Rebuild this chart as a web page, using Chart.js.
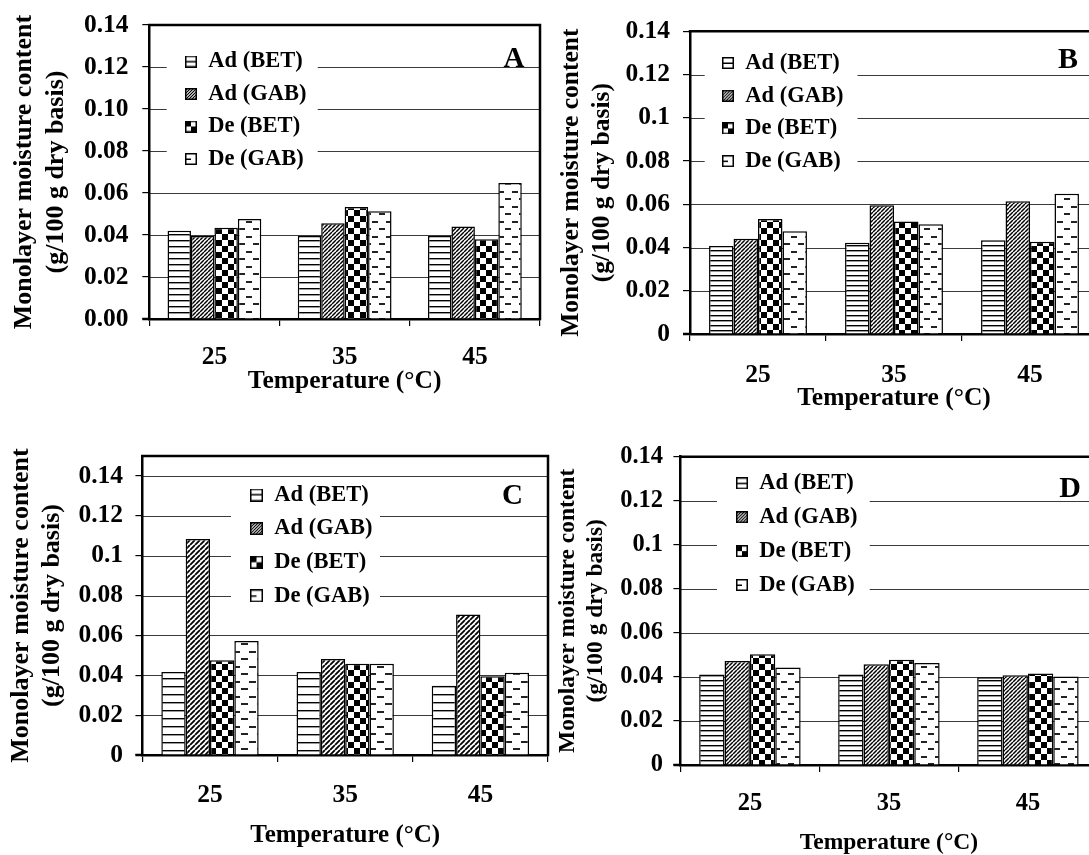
<!DOCTYPE html>
<html>
<head>
<meta charset="utf-8">
<script src="https://cdn.jsdelivr.net/npm/chart.js@4.4.1/dist/chart.umd.min.js"></script>
<style>
html,body{margin:0;padding:0;background:#fff;overflow:hidden;}
body{width:1089px;height:855px;position:relative;}
canvas{position:absolute;display:block;}
</style>
</head>
<body>
<script>
// ---------------- data ----------------
const categories = ['25', '35', '45'];
const seriesLabels = ['Ad (BET)', 'Ad (GAB)', 'De (BET)', 'De (GAB)'];
const yTickValues = [0, 0.02, 0.04, 0.06, 0.08, 0.10, 0.12, 0.14];
const yTickLabelsA = ['0.00', '0.02', '0.04', '0.06', '0.08', '0.10', '0.12', '0.14'];
const yTickLabelsBCD = ['0', '0.02', '0.04', '0.06', '0.08', '0.1', '0.12', '0.14'];
const xTitleText = 'Temperature (°C)';
const yTitleText = ['Monolayer moisture content', '(g/100 g dry basis)'];
const panelLetters = ['A', 'B', 'C', 'D'];

const adBET_A = [0.0420, 0.0395, 0.0395];
const adGAB_A = [0.0395, 0.0456, 0.0440];
const deBET_A = [0.0434, 0.0533, 0.0380];
const deGAB_A = [0.0476, 0.0513, 0.0648];

const adBET_B = [0.0407, 0.0422, 0.0433];
const adGAB_B = [0.0441, 0.0595, 0.0614];
const deBET_B = [0.0532, 0.0520, 0.0427];
const deGAB_B = [0.0475, 0.0507, 0.0649];

const adBET_C = [0.0417, 0.0417, 0.0348];
const adGAB_C = [0.1083, 0.0482, 0.0705];
const deBET_C = [0.0475, 0.0458, 0.0395];
const deGAB_C = [0.0572, 0.0458, 0.0413];

const adBET_D = [0.0411, 0.0411, 0.0398];
const adGAB_D = [0.0472, 0.0458, 0.0408];
const deBET_D = [0.0503, 0.0478, 0.0416];
const deGAB_D = [0.0443, 0.0463, 0.0402];

const yMaxA = 0.14, yMaxB = 0.14, yMaxC = 0.15, yMaxD = 0.14;

// ---------------- layout / style ----------------
const FONT = "'Liberation Serif', 'Times New Roman', serif";
const LEGEND_FONT = 22.5;

const panels = [
  { id: 'A', letter: panelLetters[0], yMax: yMaxA, tickLabels: yTickLabelsA,
    data: [adBET_A, adGAB_A, deBET_A, deGAB_A],
    canvas: {x: 0, y: 0, w: 545, h: 425}, area: {l: 149.3, t: 25, r: 540, b: 319},
    tickFont: 25.5, xTitleFont: 25.5, yTitleFont: 26, yTickPad: 13.8, xTickMid: 357.5, yTitleX: 24.5, xTitleMid: 381.6,
    legend: {x: 185, y: 61.5, sp: 32.5, icon: 12}, box: {x1: 166.7, y1: 42, x2: 317.7, y2: 176},
    label: {size: 29, right: 524.5, base: 67}, pat: {h: 6, d: 4, c: 6, dw: 14, dh: 15}, cat: 0.72 },
  { id: 'B', letter: panelLetters[1], yMax: yMaxB, tickLabels: yTickLabelsBCD,
    data: [adBET_B, adGAB_B, deBET_B, deGAB_B],
    canvas: {x: 545, y: 0, w: 560, h: 425}, area: {l: 690, t: 31.25, r: 1098, b: 334},
    tickFont: 25.5, xTitleFont: 25.5, yTitleFont: 25.5, yTickPad: 13, xTickMid: 375, yTitleX: 571, xTitleMid: 398.5,
    legend: {x: 722, y: 63, sp: 32.7, icon: 12}, box: {x1: 704.7, y1: 43, x2: 857.5, y2: 178},
    label: {size: 30, right: 1078, base: 68}, pat: {h: 5, d: 4, c: 6, dw: 14, dh: 15}, cat: 0.72 },
  { id: 'C', letter: panelLetters[2], yMax: yMaxC, tickLabels: yTickLabelsBCD,
    data: [adBET_C, adGAB_C, deBET_C, deGAB_C],
    canvas: {x: 0, y: 430, w: 552, h: 428}, area: {l: 142.4, t: 456, r: 548, b: 755},
    tickFont: 25.5, xTitleFont: 25, yTitleFont: 26, yTickPad: 12.4, xTickMid: 795.5, yTitleX: 20.8, xTitleMid: 835.3,
    legend: {x: 250, y: 495, sp: 33.6, icon: 13}, box: {x1: 231, y1: 478, x2: 380, y2: 613},
    label: {size: 29, right: 523, base: 504}, pat: {h: 8, d: 5, c: 6, dw: 16, dh: 15}, cat: 0.72 },
  { id: 'D', letter: panelLetters[3], yMax: yMaxD, tickLabels: yTickLabelsBCD,
    data: [adBET_D, adGAB_D, deBET_D, deGAB_D],
    canvas: {x: 549, y: 430, w: 560, h: 428}, area: {l: 680.4, t: 456.7, r: 1097.4, b: 765},
    tickFont: 24.5, xTitleFont: 23.5, yTitleFont: 23.5, yTickPad: 10.4, xTickMid: 803.5, yTitleX: 567.6, xTitleMid: 843.3,
    legend: {x: 736, y: 483.3, sp: 33.9, icon: 12}, box: {x1: 717, y1: 465, x2: 869.7, y2: 602},
    label: {size: 30, right: 1081, base: 497}, pat: {h: 5, d: 4, c: 6, dw: 14, dh: 15}, cat: 0.73 }
];

function tileCanvas(w, h, draw) {
  const c = document.createElement('canvas');
  c.width = w; c.height = h;
  const g = c.getContext('2d');
  g.fillStyle = '#fff'; g.fillRect(0, 0, w, h);
  draw(g, w, h);
  return c;
}

function makePatterns(ctx, pt) {
  const hl = tileCanvas(4, pt.h, (g, w) => { g.fillStyle = '#000'; g.fillRect(0, 0, w, 1.4); });
  const d = pt.d;
  const dg = tileCanvas(d, d, (g) => {
    g.strokeStyle = '#000'; g.lineWidth = d * 0.36; g.beginPath();
    for (let k = -1; k <= 1; k++) { g.moveTo(k * d, d); g.lineTo(k * d + d, 0); }
    g.stroke();
  });
  const c = pt.c;
  const ck = tileCanvas(2 * c, 2 * c, (g) => { g.fillStyle = '#000'; g.fillRect(0, 0, c, c); g.fillRect(c, c, c, c); });
  const ds = tileCanvas(pt.dw, pt.dh, (g, w, h) => {
    g.fillStyle = '#222';
    const L = Math.round(w * 0.45);
    g.fillRect(1, Math.round(h * 0.2), L, 2);
    g.fillRect(Math.round(w / 2) + 1, Math.round(h * 0.7), L, 2);
  });
  return [hl, dg, ck, ds].map(t => ctx.createPattern(t, 'repeat'));
}

function makeIcons(s) {
  const mk = (draw) => {
    const c = document.createElement('canvas');
    c.width = s; c.height = s;
    const g = c.getContext('2d');
    g.fillStyle = '#fff'; g.fillRect(0, 0, s, s);
    g.save(); g.beginPath(); g.rect(1, 1, s - 2, s - 2); g.clip(); draw(g); g.restore();
    g.strokeStyle = '#000'; g.lineWidth = 1.5; g.strokeRect(0.75, 0.75, s - 1.5, s - 1.5);
    return c;
  };
  return [
    mk(g => { g.fillStyle = '#000'; g.fillRect(0, Math.floor(s / 2) - 0.5, s, 1.5); }),
    mk(g => { g.strokeStyle = '#000'; g.lineWidth = 1.2; g.beginPath();
              for (let k = -s; k <= 2 * s; k += 3) { g.moveTo(k, s); g.lineTo(k + s, 0); } g.stroke(); }),
    mk(g => { g.fillStyle = '#000'; const h = s / 2; g.fillRect(0, 0, h, h); g.fillRect(h, h, h, h); }),
    mk(g => { g.fillStyle = '#000'; g.fillRect(1, s / 2 - 0.5, s / 2 - 1, 1.5); })
  ];
}

function makeDeco(p) {
  const ox = p.canvas.x, oy = p.canvas.y;
  return {
    id: 'deco' + p.id,
    afterLayout(chart) {
      const lg = chart.legend;
      if (!lg) return;
      const pad = p.legend.sp - LEGEND_FONT;
      lg.left = p.legend.x - ox - pad;
      lg.top = p.legend.y - oy - LEGEND_FONT / 2 - pad;
      lg.width = 400; lg.height = 400;
      lg.right = lg.left + 400; lg.bottom = lg.top + 400;
    },
    beforeDraw(chart) {
      const {ctx, chartArea: ca} = chart;
      const y = chart.scales.y;
      ctx.save();
      ctx.strokeStyle = '#3a3a3a'; ctx.lineWidth = 1;
      yTickValues.forEach(v => {
        if (v === 0) return;
        const py = Math.round(y.getPixelForValue(v)) + 0.5;
        ctx.beginPath(); ctx.moveTo(ca.left, py); ctx.lineTo(ca.right, py); ctx.stroke();
      });
      ctx.fillStyle = '#fff';
      ctx.fillRect(p.box.x1 - ox, p.box.y1 - oy, p.box.x2 - p.box.x1, p.box.y2 - p.box.y1);
      ctx.restore();
    },
    afterDraw(chart) {
      const {ctx, chartArea: ca} = chart;
      ctx.save();
      ctx.strokeStyle = '#000'; ctx.lineWidth = 2.5; ctx.lineCap = 'square';
      ctx.beginPath(); ctx.moveTo(ca.left, ca.top); ctx.lineTo(ca.right, ca.top); ctx.lineTo(ca.right, ca.bottom); ctx.stroke();
      ctx.lineCap = 'butt';
      ctx.beginPath(); ctx.moveTo(ca.left - 7, ca.bottom); ctx.lineTo(ca.left, ca.bottom); ctx.stroke();
      ctx.fillStyle = '#000';
      ctx.font = 'bold ' + p.label.size + 'px ' + FONT;
      ctx.textAlign = 'right'; ctx.textBaseline = 'alphabetic';
      ctx.fillText(p.letter, p.label.right - ox, p.label.base - oy);
      ctx.restore();
    }
  };
}

function build(p) {
  const cv = document.createElement('canvas');
  cv.width = p.canvas.w; cv.height = p.canvas.h;
  cv.style.left = p.canvas.x + 'px'; cv.style.top = p.canvas.y + 'px';
  cv.style.width = p.canvas.w + 'px'; cv.style.height = p.canvas.h + 'px';
  document.body.appendChild(cv);
  const ox = p.canvas.x, oy = p.canvas.y;
  const A = {l: p.area.l - ox, t: p.area.t - oy, r: p.area.r - ox, b: p.area.b - oy};
  const ctx = cv.getContext('2d');
  const pats = makePatterns(ctx, p.pat);
  const icons = makeIcons(p.legend.icon);
  const tickLH = 1.2, titleLH = 1.2, yTitleLH = 1.22;
  const xTickPad = p.xTickMid - p.area.b - 7 - p.tickFont * tickLH / 2;
  const xTitlePadB = Math.max(0, (oy + p.canvas.h) - p.xTitleMid - p.xTitleFont * titleLH / 2);
  const yTitlePadT = p.yTitleX - ox - p.yTitleFont * yTitleLH / 2;

  const datasets = p.data.map((vals, i) => ({
    label: seriesLabels[i],
    data: vals,
    backgroundColor: pats[i],
    borderColor: '#000',
    borderWidth: 1.5,
    categoryPercentage: p.cat,
    barPercentage: 1.0
  }));

  new Chart(cv, {
    type: 'bar',
    data: {labels: categories, datasets},
    options: {
      responsive: false,
      animation: false,
      events: [],
      devicePixelRatio: 1,
      layout: {padding: {left: 0, top: A.t, right: p.canvas.w - A.r, bottom: 0}},
      scales: {
        x: {
          type: 'category',
          offset: true,
          grid: {display: true, offset: true, drawOnChartArea: false, drawTicks: true, tickLength: 7, color: '#000', lineWidth: 1.2},
          border: {display: true, color: '#000', width: 2.5},
          ticks: {color: '#000', padding: xTickPad, maxRotation: 0, autoSkip: false,
                  font: {family: FONT, size: p.tickFont, weight: 'bold', lineHeight: tickLH}},
          title: {display: true, text: xTitleText, color: '#000',
                  font: {family: FONT, size: p.xTitleFont, weight: 'bold', lineHeight: titleLH},
                  padding: {top: 0, bottom: xTitlePadB}},
          afterFit: (s) => { s.height = p.canvas.h - A.b; s.paddingLeft = 0; s.paddingRight = 0; }
        },
        y: {
          type: 'linear',
          min: 0,
          max: p.yMax,
          afterBuildTicks: (s) => { s.ticks = yTickValues.map(v => ({value: v})); },
          grid: {display: true, drawOnChartArea: false, drawTicks: true, tickLength: 7, color: '#000', lineWidth: 1.2},
          border: {display: true, color: '#000', width: 2.5},
          ticks: {color: '#000', padding: p.yTickPad,
                  font: {family: FONT, size: p.tickFont, weight: 'bold', lineHeight: tickLH},
                  callback: (v, i) => p.tickLabels[i]},
          title: {display: true, text: yTitleText, color: '#000',
                  font: {family: FONT, size: p.yTitleFont, weight: 'bold', lineHeight: yTitleLH},
                  padding: {top: yTitlePadT, bottom: 0}},
          afterFit: (s) => { s.width = A.l; s.paddingTop = 0; s.paddingBottom = 0; }
        }
      },
      plugins: {
        tooltip: {enabled: false},
        legend: {
          display: true,
          position: 'chartArea',
          align: 'start',
          labels: {
            usePointStyle: true,
            boxWidth: p.legend.icon,
            boxHeight: p.legend.icon,
            padding: p.legend.sp - LEGEND_FONT,
            color: '#000',
            font: {family: FONT, size: LEGEND_FONT, weight: 'bold'},
            generateLabels: (chart) => Chart.defaults.plugins.legend.labels.generateLabels(chart)
              .map(it => Object.assign(it, {pointStyle: icons[it.datasetIndex], fontColor: '#000'}))
          }
        }
      }
    },
    plugins: [makeDeco(p)]
  });
}

panels.forEach(build);
</script>
</body>
</html>
